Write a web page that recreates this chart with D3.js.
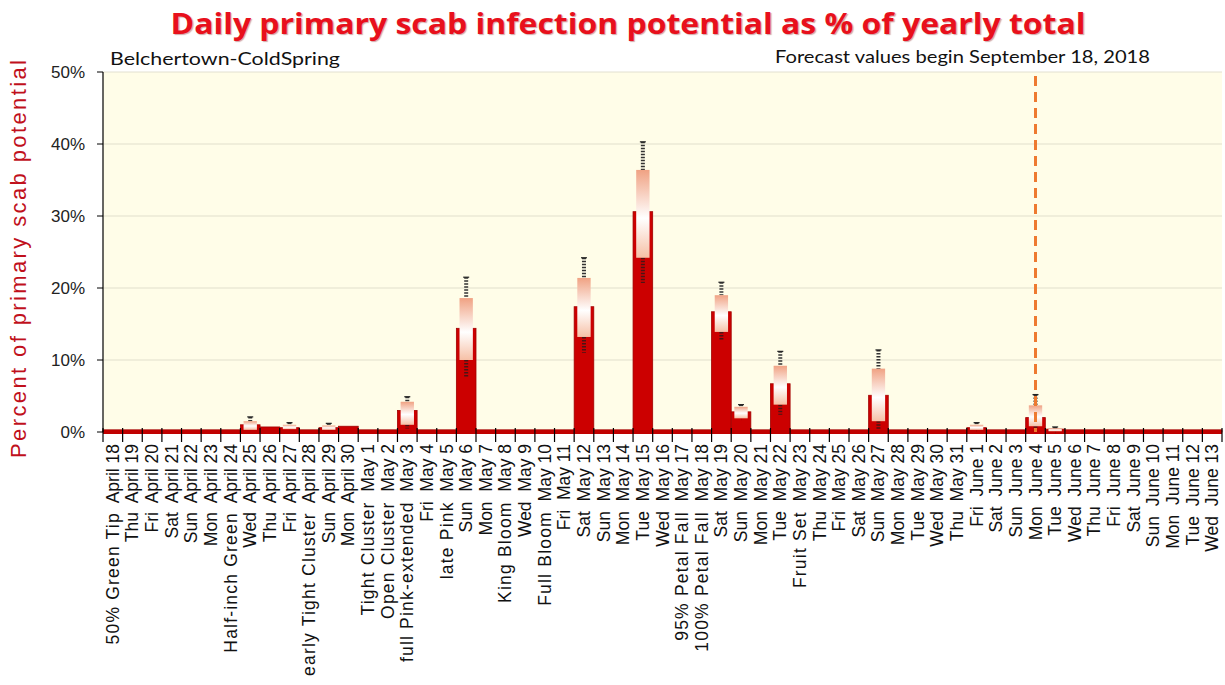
<!DOCTYPE html>
<html>
<head>
<meta charset="utf-8">
<script src="https://cdn.jsdelivr.net/npm/d3@7"></script>
<style>
  body { margin: 0; background: #fff; }
  .xlab { font-family: "Liberation Sans", Arial, sans-serif; font-size: 17.5px; fill: #111; white-space: pre; }
  .ylab { font-family: "Liberation Sans", Arial, sans-serif; font-size: 17px; fill: #222; }
</style>
</head>
<body>
<div id="chart"></div>
<script>
// Category labels: first part (growth stage or weekday) and date
const stages = [
  "50% Green Tip", "Thu", "Fri", "Sat", "Sun", "Mon", "Half-inch Green", "Wed", "Thu", "Fri",
  "early Tight Cluster", "Sun", "Mon", "Tight Cluster", "Open Cluster", "full Pink-extended", "Fri",
  "late Pink", "Sun", "Mon", "King Bloom", "Wed", "Full Bloom", "Fri", "Sat", "Sun", "Mon", "Tue",
  "Wed", "95% Petal Fall", "100% Petal Fall", "Sat", "Sun", "Mon", "Tue", "Fruit Set", "Thu", "Fri",
  "Sat", "Sun", "Mon", "Tue", "Wed", "Thu", "Fri", "Sat", "Sun", "Mon", "Tue", "Wed", "Thu", "Fri",
  "Sat", "Sun", "Mon", "Tue", "Wed"
];
const dates = [
  "April 18", "April 19", "April 20", "April 21", "April 22", "April 23", "April 24", "April 25",
  "April 26", "April 27", "April 28", "April 29", "April 30", "May 1", "May 2", "May 3", "May 4",
  "May 5", "May 6", "May 7", "May 8", "May 9", "May 10", "May 11", "May 12", "May 13", "May 14",
  "May 15", "May 16", "May 17", "May 18", "May 19", "May 20", "May 21", "May 22", "May 23", "May 24",
  "May 25", "May 26", "May 27", "May 28", "May 29", "May 30", "May 31", "June 1", "June 2", "June 3",
  "June 4", "June 5", "June 6", "June 7", "June 8", "June 9", "June 10", "June 11", "June 12", "June 13"
];
const weekdays = ["Mon", "Tue", "Wed", "Thu", "Fri", "Sat", "Sun"];

// Daily value (%)
const values = [
  0.3, 0.3, 0.3, 0.3, 0.3, 0.3, 0.3, 1.0, 0.7, 0.6,
  0.3, 0.6, 0.8, 0.3, 0.3, 3.0, 0.3, 0.3, 14.4, 0.3,
  0.3, 0.3, 0.3, 0.3, 17.4, 0.3, 0.3, 30.6, 0.3, 0.3,
  0.3, 16.7, 2.8, 0.3, 6.7, 0.3, 0.3, 0.3, 0.3, 5.1,
  0.3, 0.3, 0.3, 0.3, 0.6, 0.3, 0.3, 2.0, 0.4, 0.3,
  0.3, 0.3, 0.3, 0.3, 0.3, 0.3, 0.3
];

// Uncertainty ranges: [index, bandLow, bandHigh, whiskerLow, whiskerHigh]
const ranges = [
  [7, 0.3, 1.5, 0.3, 2.1],
  [9, 0.4, 1.0, 0.4, 1.3],
  [11, 0.3, 0.9, 0.3, 1.2],
  [15, 1.0, 4.2, 0.5, 4.9],
  [18, 10.0, 18.6, 7.5, 21.5],
  [24, 13.2, 21.4, 11.0, 24.2],
  [27, 24.2, 36.4, 20.7, 40.3],
  [31, 13.9, 19.0, 12.8, 20.8],
  [32, 1.9, 3.5, 1.9, 3.8],
  [34, 3.8, 9.2, 2.4, 11.2],
  [39, 1.5, 8.8, 0.4, 11.4],
  [44, 0.3, 1.0, 0.3, 1.3],
  [47, 0.8, 3.7, 0.5, 5.2],
  [48, 0.1, 0.5, 0.1, 0.7]
];

const yTicks = [0, 10, 20, 30, 40, 50];
const forecastIndex = 47;

const W = 1225, H = 685;
const x0 = 103, x1 = 1222, yTop = 72, yBot = 432;

const svg = d3.select("#chart").append("svg")
  .attr("width", W).attr("height", H)
  .style("font-family", "'Liberation Sans', Arial, sans-serif");

const x = d3.scaleBand().domain(d3.range(dates.length)).range([x0, x1]).padding(0);
const y = d3.scaleLinear().domain([0, 50]).range([yBot, yTop]);

// gradient for the range boxes
const defs = svg.append("defs");
const grad = defs.append("linearGradient").attr("id", "band").attr("x1", 0).attr("y1", 0).attr("x2", 0).attr("y2", 1);
grad.append("stop").attr("offset", "0%").attr("stop-color", "#f0a283");
grad.append("stop").attr("offset", "55%").attr("stop-color", "#ffffff");
grad.append("stop").attr("offset", "100%").attr("stop-color", "#f6c0a6");

// plot background
svg.append("rect").attr("x", x0).attr("y", yTop).attr("width", x1 - x0).attr("height", yBot - yTop)
  .attr("fill", "#fffde8");
svg.append("line").attr("x1", x0).attr("x2", x1).attr("y1", yTop).attr("y2", yTop)
  .attr("stroke", "#e2e0d0");

// gridlines
svg.selectAll(".grid").data(yTicks.slice(1, -1)).enter().append("line")
  .attr("x1", x0).attr("x2", x1)
  .attr("y1", d => y(d)).attr("y2", d => y(d))
  .attr("stroke", "#ebe8d6").attr("stroke-width", 1.5);

// title
svg.append("text").attr("x", 628).attr("y", 34).attr("text-anchor", "middle")
  .attr("font-family", "'Open Sans', sans-serif").attr("font-weight", "bold").attr("font-size", 28)
  .attr("fill", "#e8101c").attr("textLength", 915).attr("lengthAdjust", "spacingAndGlyphs")
  .style("text-shadow", "1px 1px 1px rgba(120,0,0,0.35)")
  .text("Daily primary scab infection potential as % of yearly total");

svg.append("text").attr("x", 110).attr("y", 65)
  .attr("font-family", "Lato, sans-serif").attr("font-size", 18).attr("fill", "#111")
  .attr("textLength", 230).attr("lengthAdjust", "spacingAndGlyphs")
  .text("Belchertown-ColdSpring");

svg.append("text").attr("x", 775).attr("y", 63)
  .attr("font-family", "Lato, sans-serif").attr("font-size", 18).attr("fill", "#111")
  .attr("textLength", 375).attr("lengthAdjust", "spacingAndGlyphs")
  .text("Forecast values begin September 18, 2018");

// y axis title
svg.append("text").attr("transform", "translate(26,259) rotate(-90)")
  .attr("text-anchor", "middle").attr("font-family", "'Liberation Sans', Arial, sans-serif")
  .attr("font-size", 22).attr("fill", "#c0101c")
  .attr("textLength", 398).attr("lengthAdjust", "spacing")
  .text("Percent of primary scab potential");

// bars
svg.selectAll(".bar").data(values).enter().append("rect")
  .attr("x", (d, i) => x(i))
  .attr("y", d => y(d))
  .attr("width", x.bandwidth())
  .attr("height", d => y(0) - y(d))
  .attr("fill", "#cc0000")
  .attr("stroke", "#a00000").attr("stroke-width", 0.8);

// red baseline
svg.append("line").attr("x1", x0).attr("x2", x1).attr("y1", yBot).attr("y2", yBot)
  .attr("stroke", "#c00000").attr("stroke-width", 4);

// range boxes and whiskers
const bw = x.bandwidth() * 0.68;
const cx = i => x(i) + x.bandwidth() / 2;
const rg = svg.selectAll(".range").data(ranges).enter().append("g");
rg.append("line")
  .attr("x1", d => cx(d[0])).attr("x2", d => cx(d[0]))
  .attr("y1", d => y(d[4])).attr("y2", d => y(d[2]))
  .attr("stroke", "#333").attr("stroke-width", 4).attr("stroke-dasharray", "1.5,1.5");
rg.append("line")
  .attr("x1", d => cx(d[0])).attr("x2", d => cx(d[0]))
  .attr("y1", d => y(d[1])).attr("y2", d => y(d[3]))
  .attr("stroke", "#4a1515").attr("stroke-width", 4).attr("stroke-dasharray", "1.5,1.5");
rg.append("line")
  .attr("x1", d => cx(d[0]) - 3).attr("x2", d => cx(d[0]) + 3)
  .attr("y1", d => y(d[4])).attr("y2", d => y(d[4]))
  .attr("stroke", "#222").attr("stroke-width", 1.2);
rg.append("rect")
  .attr("x", d => cx(d[0]) - bw / 2)
  .attr("y", d => y(d[2]))
  .attr("width", bw)
  .attr("height", d => y(d[1]) - y(d[2]))
  .attr("fill", "url(#band)");

// forecast line
const fx = cx(forecastIndex);
svg.append("line").attr("x1", fx).attr("x2", fx).attr("y1", yTop + 4).attr("y2", yBot)
  .attr("stroke", "#ee7a30").attr("stroke-width", 3).attr("stroke-dasharray", "10,6");

// y axis
svg.append("line").attr("x1", x0).attr("x2", x0).attr("y1", yTop).attr("y2", yBot)
  .attr("stroke", "#000").attr("stroke-width", 1.2);
svg.selectAll(".ytick").data(yTicks).enter().append("line")
  .attr("x1", x0 - 6).attr("x2", x0).attr("y1", d => y(d)).attr("y2", d => y(d))
  .attr("stroke", "#000");
svg.selectAll(".ylab").data(yTicks).enter().append("text")
  .attr("class", "ylab")
  .attr("x", 85).attr("y", d => y(d) + 6).attr("text-anchor", "end")
  .text(d => d + "%");

// x ticks at category boundaries
svg.selectAll(".xtick").data(d3.range(dates.length + 1)).enter().append("line")
  .attr("x1", i => x0 + i * x.step()).attr("x2", i => x0 + i * x.step())
  .attr("y1", yBot - 4).attr("y2", yBot + 10)
  .attr("stroke", "#000").attr("stroke-width", 1.2);

// x labels: stage names get a little more spacing than weekdays
svg.selectAll(".xlab").data(dates).enter().append("text")
  .attr("class", "xlab")
  .attr("transform", (d, i) => `translate(${cx(i) + 6},${yBot + 12}) rotate(-90)`)
  .attr("text-anchor", "end")
  .each(function (d, i) {
    const t = d3.select(this);
    const isDay = weekdays.includes(stages[i]);
    t.append("tspan").attr("letter-spacing", isDay ? 0 : 1.2).text(stages[i]);
    t.append("tspan").attr("letter-spacing", 0).text("  " + d);
  });
</script>
</body>
</html>
